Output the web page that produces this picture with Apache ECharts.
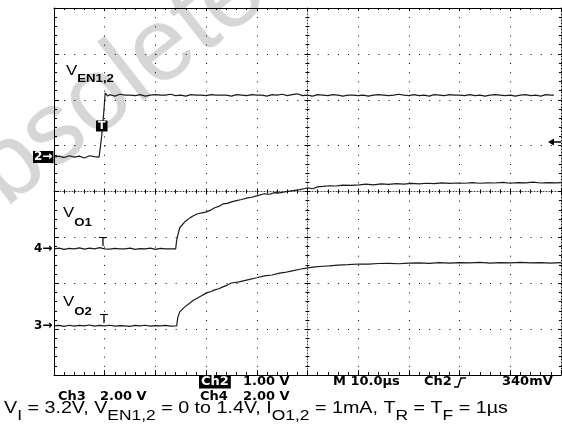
<!DOCTYPE html>
<html>
<head>
<meta charset="utf-8">
<script src="https://cdn.jsdelivr.net/npm/echarts@6/dist/echarts.min.js"></script>
<style>
html,body{margin:0;padding:0;background:#fff;}
#chart{width:562px;height:429px;}
</style>
</head>
<body>
<div id="chart"></div>
<script>
// ---- Scope settings ----
const timePerDiv = 10;          // µs / div  (M 10.0µs)
const voltsPerDiv = {ch2: 1, ch4: 2, ch3: 2};
const groundDiv = {ch2: 0.75, ch4: -1.25, ch3: -2.93};

// ---- Traces: [time µs from left edge, volts] ----
const vEN = [
[0,0.00],[1,0.02],[2,-0.01],[3,0.03],[4,0.00],[5,0.02],[6,-0.02],[7,0.03],[8,0.01],[8.9,0.00],
[9.4,0.45],[9.8,0.95],[10.1,1.40],[10.6,1.33],[11,1.36],[12,1.33],[13,1.37],[14,1.35],[15,1.35],[16,1.34],
[17,1.36],[18,1.33],[19,1.35],[20,1.36],[21,1.35],[22,1.35],[23,1.37],[24,1.34],[25,1.35],[26,1.33],
[27,1.36],[28,1.35],[29,1.35],[30,1.34],[31,1.36],[32,1.35],[33,1.35],[34,1.35],[35,1.33],[36,1.36],
[37,1.35],[38,1.34],[39,1.36],[40,1.35],[41,1.35],[42,1.33],[43,1.36],[44,1.35],[45,1.37],[46,1.34],
[47,1.36],[48,1.38],[49,1.34],[50,1.35],[51,1.33],[52,1.36],[53,1.35],[54,1.34],[55,1.36],[56,1.35],
[57,1.33],[58,1.35],[59,1.35],[60,1.34],[61,1.35],[62,1.33],[63,1.35],[64,1.36],[65,1.35],[66,1.34],
[67,1.35],[68,1.37],[69,1.35],[70,1.34],[71,1.36],[72,1.34],[73,1.35],[74,1.33],[75,1.36],[76,1.35],
[77,1.34],[78,1.36],[79,1.35],[80,1.35],[81,1.34],[82,1.36],[83,1.34],[84,1.35],[85,1.33],[86,1.35],
[87,1.36],[88,1.35],[89,1.34],[90,1.35],[91,1.33],[92,1.35],[93,1.36],[94,1.34],[95,1.35],[96,1.33],
[97,1.36],[98,1.35],[98.6,1.35]
];
const vO1 = [
[0,0.00],[1,0.03],[2,-0.02],[3,0.02],[4,0.00],[5,0.04],[6,-0.01],[7,0.03],[8,0.00],[9,0.05],
[10,0.00],[11,-0.01],[12,0.02],[13,0.00],[14,0.00],[15,0.03],[16,-0.02],[17,0.01],[18,0.00],[19,0.03],
[20,-0.02],[21,0.02],[22,0.00],[23,0.00],[24.0,0.00],[24.2,0.39],[24.8,0.92],[25.8,1.18],[26.8,1.35],[27.5,1.44],
[28.3,1.53],[29.2,1.57],[30.1,1.61],[31,1.70],[31.7,1.79],[32.5,1.85],[33.3,1.96],[34.2,1.98],[35,2.05],[36,2.10],
[37,2.15],[38.2,2.22],[39,2.25],[40,2.31],[41.5,2.40],[42.5,2.38],[43.5,2.45],[44.5,2.44],[45.5,2.48],[46.5,2.52],
[47.5,2.55],[48.5,2.58],[49.5,2.63],[50,2.66],[51,2.62],[52,2.70],[53,2.72],[54.3,2.75],[55.5,2.74],[57,2.78],
[58.5,2.77],[60.2,2.79],[61.5,2.82],[63,2.79],[64.5,2.83],[66,2.81],[67.5,2.84],[69,2.82],[70.5,2.85],[72,2.83],
[73.5,2.86],[75,2.84],[76.5,2.88],[78,2.85],[79.5,2.87],[81,2.86],[82.5,2.89],[84,2.86],[85.5,2.88],[87,2.87],
[88.5,2.90],[90,2.86],[91.5,2.89],[93,2.88],[94.5,2.91],[96,2.87],[97.5,2.89],[99,2.88],[100,2.89]
];
const vO2 = [
[0,0.00],[1,0.02],[2,-0.02],[3,0.03],[4,-0.01],[5,0.02],[6,0.00],[7,0.04],[8,-0.01],[9,0.02],
[10,0.00],[11,0.03],[12,-0.01],[13,0.01],[14,0.00],[15,-0.02],[16,0.02],[17,0.00],[18,0.03],[19,-0.01],
[20,0.01],[21,0.00],[22,0.02],[23,-0.01],[24.2,0.00],[24.4,0.35],[24.8,0.61],[25.8,0.83],[26.8,1.00],[27.5,1.12],
[28.3,1.22],[29.2,1.33],[30.1,1.44],[31,1.50],[31.7,1.57],[32.5,1.62],[33.3,1.70],[34.2,1.78],[35,1.87],[36.5,1.92],
[38.2,2.01],[40,2.10],[41.5,2.18],[43,2.22],[44.5,2.30],[45.5,2.33],[47,2.40],[48.5,2.47],[50,2.53],[51.5,2.57],
[53,2.60],[54.3,2.62],[56,2.65],[58,2.67],[60.2,2.70],[62,2.69],[64,2.72],[66,2.73],[68,2.71],[70,2.74],
[72,2.75],[74,2.73],[76,2.76],[78,2.74],[80,2.76],[82,2.75],[84,2.77],[86,2.74],[88,2.76],[90,2.75],
[92,2.77],[94,2.75],[96,2.76],[98,2.74],[100,2.76]
];

// ---- Texts ----
const readouts = {
  ch3: 'Ch3', ch3v: '2.00 V', ch2: 'Ch2', ch2v: '1.00 V', ch4: 'Ch4', ch4v: '2.00 V',
  time: 'M 10.0\u00b5s', trig: 'Ch2', level: '340mV'
};
const caption = '{m|V}{s|I}{m| = 3.2V, V}{s|EN1,2}{m| = 0 to 1.4V, I}{s|O1,2}{m| = 1mA, T}{s|R}{m| = T}{s|F}{m| = 1\u00b5s}';

const toDiv = (arr, ch) => arr.map(([t, v]) => [t, groundDiv[ch] + v / voltsPerDiv[ch]]);

const K = '#000';
const chart = echarts.init(document.getElementById('chart'), null, {renderer: 'canvas'});
const noLabel = {show: false};
const baseX = {type: 'value', min: 0, max: 10 * timePerDiv, interval: timePerDiv, axisLabel: noLabel, silent: true};
const baseY = {type: 'value', min: -4, max: 4, interval: 1, axisLabel: noLabel, silent: true};

const scopeFont = 'DejaVu Sans';
function rd(text, x, y, extra) {
  return Object.assign({type: 'text', x: x, y: y, silent: true, z: 50,
    style: Object.assign({text: text, font: 'bold 13px "' + scopeFont + '"', fill: '#000', verticalAlign: 'middle'}, extra || {})});
}
function label(main, sub, x, y, mainLH) {
  return {type: 'text', x: x, y: y, z: 50, silent: true, scaleX: 1.2,
    style: {text: '{v|' + main + '}{s|' + sub + '}', verticalAlign: 'middle',
      rich: {v: {fontSize: 14, fontFamily: 'Liberation Sans', fill: '#000', lineHeight: mainLH},
             s: {fontSize: 11, fontFamily: 'Liberation Sans', fontWeight: 'bold', fill: '#000', lineHeight: 10, verticalAlign: 'bottom'}}}};
}
const centerLine = {color: '#444', width: 1, type: [1, 2]};
const hiddenLine = {color: '#fff', opacity: 0, width: 1};

const option = {
  animation: false,
  backgroundColor: '#fff',
  grid: {left: 54, top: 8, width: 507, height: 367, containLabel: false, outerBoundsMode: 'none'},
  xAxis: [
    Object.assign({}, baseX, {position: 'bottom',
      axisLine: {onZero: false, lineStyle: {color: K, width: 1}},
      axisTick: {show: true, inside: true, length: 5, lineStyle: {color: K}},
      minorTick: {show: true, splitNumber: 5, length: 3, lineStyle: {color: K}},
      splitLine: {show: true, lineStyle: {color: K, width: 1, type: [1, 8.175]}}}),
    Object.assign({}, baseX, {position: 'top',
      axisLine: {onZero: false, lineStyle: {color: K, width: 1}},
      axisTick: {show: true, inside: true, length: 3, lineStyle: {color: K}},
      minorTick: {show: true, splitNumber: 5, length: 2, lineStyle: {color: K}},
      splitLine: {show: false}}),
    {type: 'value', min: -5, max: 5, show: false},
    Object.assign({}, baseX, {position: 'bottom',
      axisLine: {onZero: true, onZeroAxisIndex: 0, lineStyle: centerLine},
      axisTick: {show: true, inside: true, length: 3, lineStyle: {color: K}},
      minorTick: {show: true, splitNumber: 5, length: 2, lineStyle: {color: K}},
      splitLine: {show: false}}),
    Object.assign({}, baseX, {position: 'bottom',
      axisLine: {onZero: true, onZeroAxisIndex: 0, lineStyle: hiddenLine},
      axisTick: {show: true, inside: false, length: 3, lineStyle: {color: K}},
      minorTick: {show: true, splitNumber: 5, length: 2, lineStyle: {color: K}},
      splitLine: {show: false}})
  ],
  yAxis: [
    Object.assign({}, baseY, {position: 'left',
      axisLine: {onZero: false, lineStyle: {color: K, width: 1}},
      axisTick: {show: true, inside: true, length: 5, lineStyle: {color: K}},
      minorTick: {show: true, splitNumber: 5, length: 3, lineStyle: {color: K}},
      splitLine: {show: true, lineStyle: {color: K, width: 1, type: [1, 9.14]}}}),
    Object.assign({}, baseY, {position: 'right',
      axisLine: {onZero: false, lineStyle: {color: K, width: 1, type: [1, 2]}},
      axisTick: {show: true, inside: true, length: 3, lineStyle: {color: K}},
      minorTick: {show: true, splitNumber: 5, length: 2, lineStyle: {color: K}},
      splitLine: {show: false}}),
    Object.assign({}, baseY, {position: 'left',
      axisLine: {onZero: true, onZeroAxisIndex: 2, lineStyle: centerLine},
      axisTick: {show: true, inside: true, length: 3, lineStyle: {color: K}},
      minorTick: {show: true, splitNumber: 5, length: 2, lineStyle: {color: K}},
      splitLine: {show: false}}),
    Object.assign({}, baseY, {position: 'left',
      axisLine: {onZero: true, onZeroAxisIndex: 2, lineStyle: hiddenLine},
      axisTick: {show: true, inside: false, length: 3, lineStyle: {color: K}},
      minorTick: {show: true, splitNumber: 5, length: 2, lineStyle: {color: K}},
      splitLine: {show: false}})
  ],
  series: [
    {name: 'VEN1,2', data: toDiv(vEN, 'ch2')},
    {name: 'VO1', data: toDiv(vO1, 'ch4')},
    {name: 'VO2', data: toDiv(vO2, 'ch3')}
  ].map(s => Object.assign({type: 'line', xAxisIndex: 0, yAxisIndex: 0, symbol: 'none', showSymbol: false,
      silent: true, z: 5, lineStyle: {color: '#1a1a1a', width: 1.2}}, s)),
  graphic: [
    // watermark
    {type: 'text', x: -44, y: 276, rotation: 0.66, z: -10, silent: true,
      style: {text: 'Obsolete', font: '104px "Liberation Sans"', fill: '#d6d6d6', verticalAlign: 'bottom'}},
    // trace labels
    label('V', 'EN1,2', 66, 71, 26),
    label('V', 'O1', 63, 213, 30),
    label('V', 'O2', 63, 302, 30),
    // channel ground markers
    rd('2\u2192', 33, 157, {fill: '#fff', backgroundColor: '#000', padding: [0, 1, 0, 1], font: 'bold 12px "' + scopeFont + '"'}),
    rd('4\u2192', 34, 249, {font: 'bold 12px "' + scopeFont + '"'}),
    rd('3\u2192', 34, 326, {font: 'bold 12px "' + scopeFont + '"'}),
    // T markers
    rd('T', 96, 126, {fill: '#fff', backgroundColor: '#000', padding: [0, 2, 0, 2], font: 'bold 11px "' + scopeFont + '"'}),
    rd('T', 99, 243, {font: '13px "' + scopeFont + '"'}),
    rd('T', 100, 320, {font: '13px "' + scopeFont + '"'}),
    // trigger level arrow
    {type: 'polygon', silent: true, z: 50, shape: {points: [[548, 142], [554, 138.5], [554, 145.5]]}, style: {fill: '#000'}},
    {type: 'line', silent: true, z: 50, shape: {x1: 553, y1: 142, x2: 561, y2: 142}, style: {stroke: '#000', lineWidth: 1.5}},
    // readouts
    rd(readouts.ch3, 58, 397), rd(readouts.ch3v, 100, 397),
    rd(readouts.ch2, 199, 382, {fill: '#fff', backgroundColor: '#000', padding: [0, 2, 0, 2]}),
    rd(readouts.ch2v, 243, 382),
    rd(readouts.ch4, 200, 397), rd(readouts.ch4v, 243, 397),
    rd(readouts.time, 333, 382), rd(readouts.trig, 424, 382),
    {type: 'polyline', silent: true, z: 50, shape: {points: [[454, 387], [458, 387], [461, 378], [466, 378]]}, style: {stroke: '#000', lineWidth: 1.5, fill: null}},
    rd(readouts.level, 502, 382),
    // caption
    {type: 'text', x: 4, y: 408, z: 50, silent: true, scaleX: 1.16, style: {text: caption, verticalAlign: 'middle',
      rich: {m: {fontSize: 17, fontFamily: 'Liberation Sans', fill: '#000', lineHeight: 30}, s: {fontSize: 15, fontFamily: 'Liberation Sans', fill: '#000', lineHeight: 14, verticalAlign: 'bottom'}}}}
  ]
};
chart.setOption(option);
</script>
</body>
</html>
